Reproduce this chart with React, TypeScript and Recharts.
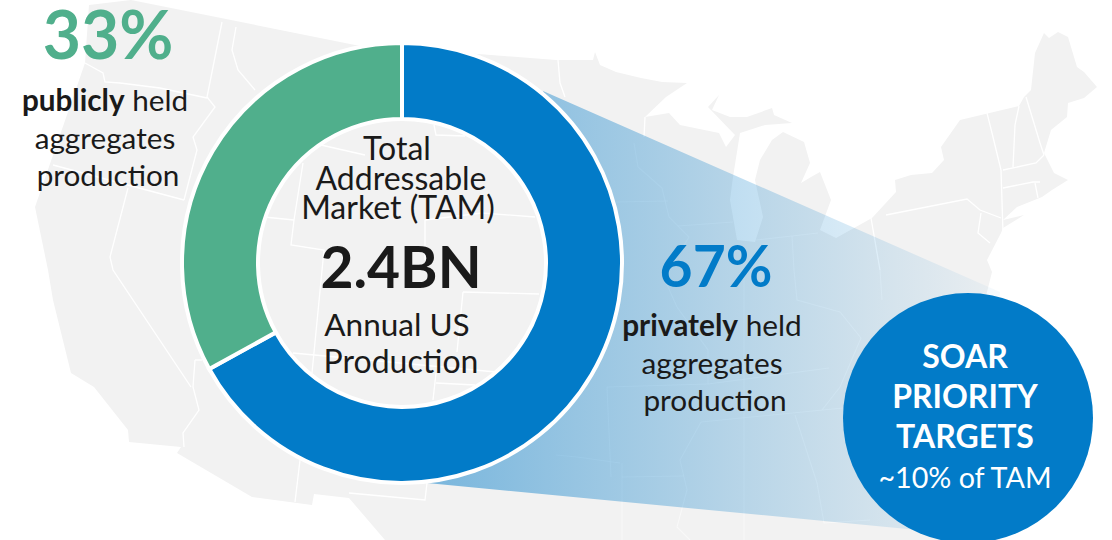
import React from "react";
import { PieChart, Pie, Cell } from "recharts";

// Aggregates production split by ownership, in percent
const ownershipNames = ["privately held", "publicly held"];
const ownershipShares = [67, 33];
const ownershipColors = ["#027BC8", "#50AF8C"];
const pieData = ownershipNames.map((name, i) => ({ name, value: ownershipShares[i] }));

const tamLines = ["Total", "Addressable", "Market (TAM)"];
const tamValue = "2.4BN";
const productionLines = ["Annual US", "Production"];
const targetLines = ["SOAR", "PRIORITY", "TARGETS"];
const targetNote = "~10% of TAM";

const FONT = "Lato, 'Open Sans', sans-serif";
const INK = "#1a1a1a";

// Simplified outline of the lower 48 states, used as a backdrop
const usOutline =
  "M131,0 L355,45 L402,48 L556,60 L593,60 L595,52 L600,65 L616,72 L641,78 L662,82 L687,83 L666,97 L645,117 L669,113 L680,125 L719,133 L726,147 L735,135 L708,107 L719,95 L712,110 L730,117 L747,117 L772,108 L774,115 L792,123 L765,125 L740,133 L733,177 L730,200 L737,240 L755,242 L763,217 L755,180 L760,160 L772,140 L783,132 L804,142 L810,163 L801,183 L811,177 L820,172 L831,200 L820,230 L836,238 L872,218 L896,192 L895,180 L911,175 L932,173 L944,160 L941,147 L960,120 L1019,106 L1024,97 L1031,90 L1035,53 L1044,33 L1049,38 L1058,32 L1068,37 L1077,67 L1084,72 L1097,87 L1084,98 L1068,103 L1067,117 L1051,130 L1044,153 L1054,173 L1068,180 L1052,190 L1042,197 L1017,207 L1003,220 L1024,215 L1003,228 L1001,233 L987,260 L992,272 L985,300 L1010,450 L1000,540 L385,540 L349,498 L314,494 L312,505 L252,497 L177,453 L181,447 L129,442 L128,430 L94,387 L71,373 L53,300 L48,270 L35,207 L85,63 L89,5 Z";

// State borders drawn in white over the outline
const stateBorders = [
  "M222,22 L207,97 L215,107 L193,137 L197,150 L184,200",
  "M236,27 L232,50 L238,70 L255,90",
  "M85,63 L103,73 L105,82 L120,83 L160,88 L207,98",
  "M53,165 L184,200",
  "M128,188 L110,257 L113,270 L191,387",
  "M195,360 L193,387 L199,410 L183,433 L184,447",
  "M195,360 L202,360",
  "M300,460 L295,502",
  "M349,493 L425,500 L427,483",
  "M434,125 L436,135 L465,136",
  "M321,145 L365,155",
  "M303,163 L294,220 L291,245 L324,250 L312,373",
  "M264,217 L294,220",
  "M425,220 L482,213 L535,217",
  "M425,220 L425,260",
  "M463,292 L539,294",
  "M463,292 L457,352",
  "M293,353 L496,372",
  "M436,373 L433,400",
  "M436,383 L475,385",
  "M886,215 L967,199 L980,210 L1001,218",
  "M1001,170 L1003,233",
  "M1003,170 L1036,163 L1044,155",
  "M987,113 L992,133 L1001,170",
  "M1026,97 L1040,143 L1044,155",
  "M1019,106 L1015,125 L1013,167",
  "M1003,188 L1033,182 L1040,182",
  "M1035,183 L1038,198",
  "M981,213 L978,233 L990,243",
  "M871,218 L880,270",
  "M558,60 L560,83 L565,97",
  "M645,117 L644,137",
];

// Borders that sit under the wedge, so they read much fainter
const wedgeBorders = [
  "M880,270 L882,300",
  "M756,240 L792,236 L818,233",
  "M792,236 L794,270 L797,300 L840,312 L861,338 L840,387 L822,410",
  "M616,202 L668,201",
  "M678,226 L733,222",
  "M634,143 L638,167 L662,188 L669,217 L689,237 L664,278 L677,307 L708,350 L708,384",
  "M607,387 L708,384",
  "M701,422 L843,408",
  "M744,270 L744,540",
  "M795,415 L817,483 L824,523 L870,520",
  "M607,387 L611,477",
  "M622,477 L684,476",
  "M622,463 L622,540",
  "M701,422 L680,460 L687,490 L677,527 L690,540",
  "M556,455 L577,457 L620,463",
  "M829,368 L708,384",
];

// Wedge fanning out from the private share toward the target circle;
// its inner edge stays hidden behind the blue ring
const wedge = "M543,91 L1000,292 L980,536 L427,483 L430,470 L600,263 Z";

function Backdrop() {
  return (
    <svg width={1112} height={540} style={{ position: "absolute", left: 0, top: 0 }}>
      <defs>
        <linearGradient id="wedgeFade" gradientUnits="userSpaceOnUse" x1={430} y1={0} x2={990} y2={0}>
          <stop offset="0" stopColor="#027BC8" stopOpacity={0.5} />
          <stop offset="1" stopColor="#027BC8" stopOpacity={0.04} />
        </linearGradient>
      </defs>
      <path d={usOutline} fill="#F2F2F2" />
      {stateBorders.map((d, i) => (
        <path key={i} d={d} fill="none" stroke="#FFFFFF" strokeWidth={1.3} />
      ))}
      {wedgeBorders.map((d, i) => (
        <path key={i} d={d} fill="none" stroke="#FFFFFF" strokeOpacity={0.5} strokeWidth={1.1} />
      ))}
      <path d={wedge} fill="url(#wedgeFade)" />
    </svg>
  );
}

function Centered(props: {
  x: number;
  y: number;
  size: number;
  fill?: string;
  weight?: number;
  children: React.ReactNode;
}) {
  const { x, y, size, fill = INK, weight = 400, children } = props;
  return (
    <text x={x} y={y} textAnchor="middle" fontFamily={FONT} fontSize={size} fontWeight={weight} fill={fill}>
      {children}
    </text>
  );
}

function Annotations() {
  return (
    <svg width={1112} height={540} style={{ position: "absolute", left: 0, top: 0 }}>
      <Centered x={108} y={59} size={66} weight={700} fill={ownershipColors[1]}>{`${ownershipShares[1]}%`}</Centered>
      <Centered x={105} y={111} size={29.7}>
        <tspan fontWeight={700}>publicly</tspan> held
      </Centered>
      <Centered x={105} y={149} size={29.7}>aggregates</Centered>
      <Centered x={108} y={186} size={29.7}>production</Centered>

      <Centered x={397} y={160} size={32}>{tamLines[0]}</Centered>
      <Centered x={401} y={190} size={32}>{tamLines[1]}</Centered>
      <Centered x={398} y={219} size={32}>{tamLines[2]}</Centered>
      <Centered x={401} y={288} size={57} weight={700}>{tamValue}</Centered>
      <Centered x={397} y={336} size={31.5}>{productionLines[0]}</Centered>
      <Centered x={401} y={373} size={32}>{productionLines[1]}</Centered>

      <Centered x={716} y={287} size={57} weight={700} fill={ownershipColors[0]}>{`${ownershipShares[0]}%`}</Centered>
      <Centered x={712} y={336} size={29.8}>
        <tspan fontWeight={700}>privately</tspan> held
      </Centered>
      <Centered x={712} y={374} size={29.8}>aggregates</Centered>
      <Centered x={715} y={411} size={29.8}>production</Centered>

      <circle cx={968} cy={418} r={125} fill={ownershipColors[0]} />
      <Centered x={965} y={368} size={32} weight={700} fill="#FFFFFF">{targetLines[0]}</Centered>
      <Centered x={965} y={408} size={32} weight={700} fill="#FFFFFF">{targetLines[1]}</Centered>
      <Centered x={965} y={448} size={32} weight={700} fill="#FFFFFF">{targetLines[2]}</Centered>
      <Centered x={965} y={488} size={28.7} fill="#FFFFFF">{targetNote}</Centered>
    </svg>
  );
}

export default function App() {
  return (
    <div style={{ position: "absolute", left: 0, top: 0, width: 1112, height: 540, overflow: "hidden", background: "#FFFFFF" }}>
      <Backdrop />
      <div style={{ position: "absolute", left: 0, top: 0 }}>
        <PieChart width={1112} height={540} margin={{ top: 0, right: 0, bottom: 0, left: 0 }}>
          <Pie
            data={pieData}
            dataKey="value"
            nameKey="name"
            cx={402}
            cy={263}
            innerRadius={144}
            outerRadius={220}
            startAngle={90}
            endAngle={-270}
            stroke="#FFFFFF"
            strokeWidth={4}
            isAnimationActive={false}
          >
            {pieData.map((d, i) => (
              <Cell key={d.name} fill={ownershipColors[i]} />
            ))}
          </Pie>
        </PieChart>
      </div>
      <Annotations />
    </div>
  );
}
